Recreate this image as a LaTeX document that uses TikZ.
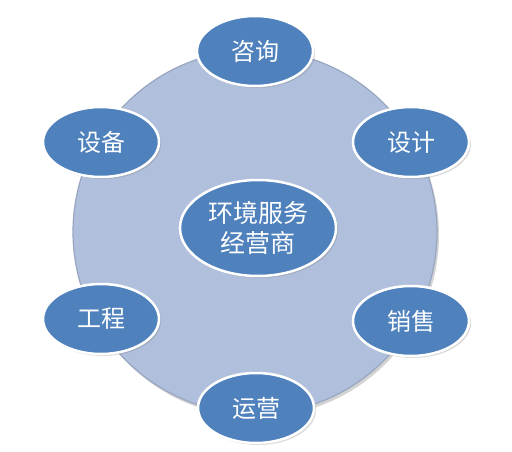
\documentclass[tikz,border=0pt]{standalone}
\usepackage{fontspec}
\newfontfamily\cjk{Noto Sans CJK SC}
\usetikzlibrary{shapes.geometric,shadows}

\definecolor{petalblue}{HTML}{4F81BD}
\definecolor{discblue}{HTML}{B0C0DC}
\definecolor{discrim}{HTML}{98A6C0}

\begin{document}
\begin{tikzpicture}[
    x=1pt,y=-1pt,
    disc/.style={
        circle,
        draw=discrim,
        line width=1.2pt,
        fill=discblue,
        minimum size=364pt,
        inner sep=0pt,
        drop shadow={opacity=0.35,shadow xshift=2pt,shadow yshift=-3pt}
    },
    petal/.style={
        ellipse,
        draw=white,
        line width=2.5pt,
        fill=petalblue,
        minimum width=116pt,
        minimum height=70pt,
        inner sep=0pt,
        text=white,
        font=\cjk\fontsize{24}{28}\selectfont,
        drop shadow={opacity=0.3,shadow xshift=2pt,shadow yshift=-2pt}
    },
    core/.style={
        petal,
        minimum width=156pt,
        minimum height=96pt,
        align=center,
        font=\cjk\fontsize{25}{30}\selectfont
    }
]

\useasboundingbox (0,0) rectangle (512,452);

%------------------------------------------------
% Background disc
%------------------------------------------------

\node[disc] (ring) at (255,232) {};

%------------------------------------------------
% Centre
%------------------------------------------------

\node[core] (hub) at (258,228) {环境服务\\经营商};

%------------------------------------------------
% Services around the disc
%------------------------------------------------

\node[petal] (consult) at (255,51) {咨询};
\node[petal] (design) at (411,142) {设计};
\node[petal] (sales) at (411,321) {销售};
\node[petal] (operate) at (256,408) {运营};
\node[petal] (project) at (101,319) {工程};
\node[petal] (equip) at (101,142) {设备};

\end{tikzpicture}
\end{document}
